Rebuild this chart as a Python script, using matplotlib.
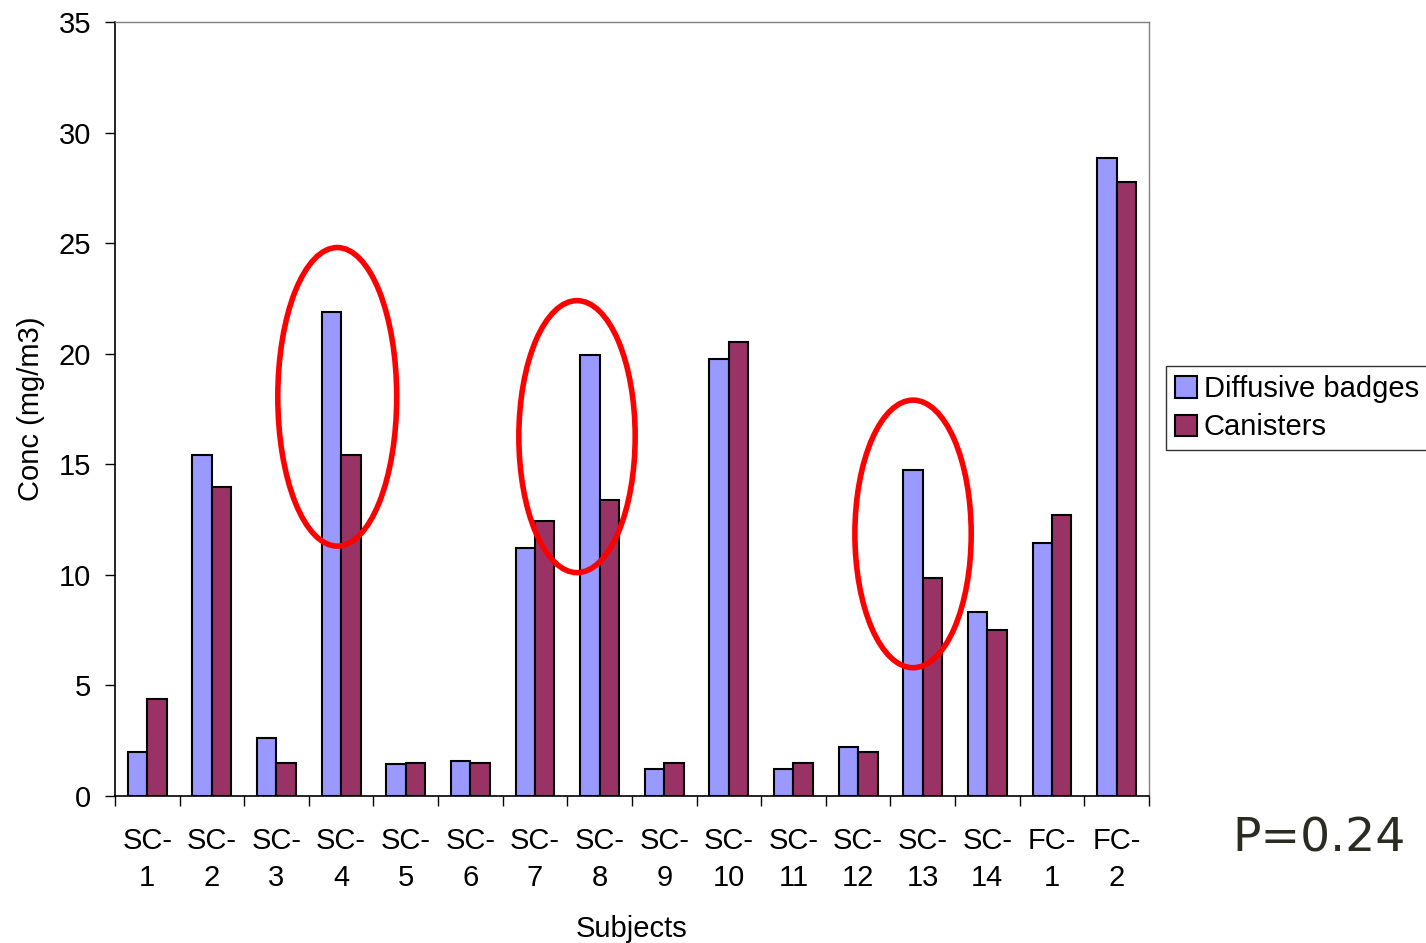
import matplotlib.pyplot as plt
import numpy as np
from matplotlib.patches import Ellipse

plt.rcParams['font.family'] = ['Liberation Sans', 'DejaVu Sans']

# data
subjects = ['SC-\n1', 'SC-\n2', 'SC-\n3', 'SC-\n4', 'SC-\n5', 'SC-\n6', 'SC-\n7', 'SC-\n8',
            'SC-\n9', 'SC-\n10', 'SC-\n11', 'SC-\n12', 'SC-\n13', 'SC-\n14', 'FC-\n1', 'FC-\n2']
badges = [2.0, 15.4, 2.6, 21.9, 1.45, 1.6, 11.2, 19.95, 1.2, 19.75, 1.2, 2.2, 14.75, 8.3, 11.45, 28.85]
canisters = [4.4, 13.95, 1.5, 15.4, 1.5, 1.5, 12.45, 13.4, 1.5, 20.55, 1.5, 2.0, 9.85, 7.5, 12.7, 27.75]

fig = plt.figure(figsize=(14.26, 9.43), dpi=100)
ax = fig.add_axes([0.0806, 0.1559, 0.7251, 0.8208])

x = np.arange(len(subjects))
w = 0.3
ax.bar(x - w/2, badges, w, color='#9999FF', edgecolor='black', linewidth=1.5, label='Diffusive badges')
ax.bar(x + w/2, canisters, w, color='#993366', edgecolor='black', linewidth=1.5, label='Canisters')

ax.set_xlim(-0.5, len(subjects) - 0.5)
ax.set_ylim(0, 35)
ax.set_yticks(np.arange(0, 36, 5))
ax.tick_params(axis='y', labelsize=21, length=7, width=1, direction='out', pad=10)

# category ticks between groups, labels centred under groups
ax.set_xticks(np.arange(-0.5, len(subjects), 1.0))
ax.set_xticklabels([])
ax.set_xticks(x, minor=True)
ax.set_xticklabels(subjects, minor=True, fontsize=21, linespacing=1.45)
ax.tick_params(axis='x', which='major', length=7, width=1, direction='out')
ax.tick_params(axis='x', which='minor', length=0, pad=22)

for s in ['top', 'right']:
    ax.spines[s].set_color('#808080')
    ax.spines[s].set_linewidth(1)
ax.spines['left'].set_linewidth(1.2)
ax.spines['bottom'].set_linewidth(1.2)

ax.set_ylabel('Conc (mg/m3)', fontsize=21, labelpad=10)
ax.set_xlabel('Subjects', fontsize=21, labelpad=16)

# red ellipses highlighting pairs
for cx, cy, ew, eh in [(2.94, 18.05, 1.84, 13.5), (6.65, 16.25, 1.8, 12.3), (11.85, 11.85, 1.8, 12.1)]:
    ax.add_patch(Ellipse((cx, cy), ew, eh, fill=False, edgecolor='#FF0000', linewidth=4, clip_on=False, zorder=5))

leg = fig.legend(loc='center left', bbox_to_anchor=(0.8177, 0.567), fontsize=21,
                 frameon=True, fancybox=False, edgecolor='black', handlelength=0.75,
                 handleheight=0.75, handletextpad=0.25, borderpad=0.3, labelspacing=0.35,
                 borderaxespad=0)
leg.get_frame().set_linewidth(1)

fig.text(0.925, 0.11, 'P=0.24', fontsize=34, color='#2b2b22', ha='center', va='center',
         family='DejaVu Sans')

fig.savefig('out.png', dpi=100)
